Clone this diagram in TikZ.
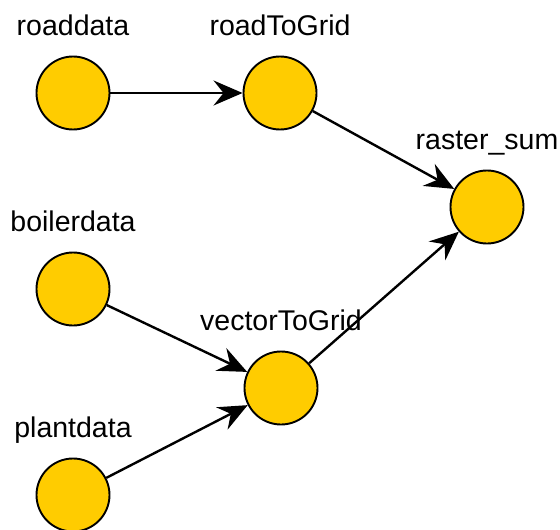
\documentclass[tikz,border=0pt]{standalone}
\usepackage{fontspec}
\setmainfont{Liberation Sans}
\definecolor{flowY}{RGB}{255,204,0}
\usetikzlibrary{arrows.meta}

\begin{document}
\begin{tikzpicture}[x=1pt,y=1pt,
    >={Stealth[length=29pt,width=25pt,inset=10pt]},
    label distance=20pt,
    connection/.style={draw=black,line width=2.4pt,->},
	task/.style={circle,inner sep=0pt,minimum size=73pt,draw=black,line width=1.9pt,fill=flowY},
	every label/.style={font=\fontsize{28.5}{30}\selectfont,inner sep=0pt,text depth=0pt},
]

	\useasboundingbox (0,0) rectangle (560,-530);

	\node[task,label=above:roaddata](road) at(73,-93){};
	\node[task,label=above:roadToGrid](roadGrid) at(280,-93){};
	\node[task,label=above:raster\_sum](rsum) at(487,-207){};
	\node[task,label=above:boilerdata](boiler) at(73,-289){};
	\node[task,label=above:vectorToGrid](vecGrid) at(281,-388){};
	\node[task,label=above:plantdata](plant) at(73,-495){};

	\draw[connection](road)--(roadGrid);
	\draw[connection](roadGrid)--(rsum);
	\draw[connection](boiler)--(vecGrid);
	\draw[connection](plant)--(vecGrid);
	\draw[connection](vecGrid)--(rsum);

\end{tikzpicture}
\end{document}
